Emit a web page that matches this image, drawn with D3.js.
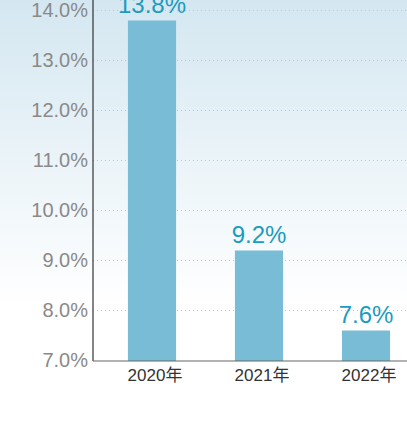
<!DOCTYPE html>
<html>
<head>
<meta charset="utf-8">
<script src="https://cdn.jsdelivr.net/npm/d3@7"></script>
<style>
  body { margin: 0; background: #fff; }
  svg { display: block; }
</style>
</head>
<body>
<div id="chart"></div>
<script>
const years = ["2020年", "2021年", "2022年"];
const rates = [13.8, 9.2, 7.6];
const yTicks = [7, 8, 9, 10, 11, 12, 13, 14];

const width = 407, height = 425;
const svg = d3.select("#chart").append("svg")
  .attr("width", width)
  .attr("height", height);

// background gradient, light blue fading to white
const grad = svg.append("defs").append("linearGradient")
  .attr("id", "bg")
  .attr("x1", 0).attr("y1", 0).attr("x2", 0).attr("y2", 1);
grad.append("stop").attr("offset", "0%").attr("stop-color", "#d4e7f1");
grad.append("stop").attr("offset", "72%").attr("stop-color", "#ffffff");
grad.append("stop").attr("offset", "100%").attr("stop-color", "#ffffff");

svg.append("rect")
  .attr("width", width)
  .attr("height", height)
  .attr("fill", "url(#bg)");

const axisX = 93, axisY = 361;

const y = d3.scaleLinear().domain([7, 14]).range([360.5, 10.5]);
const x = d3.scaleBand().domain(years)
  .range([98.5, 419.5])
  .paddingInner(0.55)
  .paddingOuter(0.275);

// dotted gridlines
svg.append("g")
  .selectAll("line")
  .data(yTicks.slice(1))
  .enter().append("line")
  .attr("x1", axisX)
  .attr("x2", width)
  .attr("y1", d => y(d))
  .attr("y2", d => y(d))
  .attr("stroke", "#c4c8cc")
  .attr("stroke-width", 1)
  .attr("stroke-dasharray", "1,3");

// bars
svg.append("g")
  .selectAll("rect")
  .data(rates)
  .enter().append("rect")
  .attr("x", (d, i) => x(years[i]))
  .attr("y", d => y(d))
  .attr("width", x.bandwidth())
  .attr("height", d => axisY - y(d))
  .attr("fill", "#79bcd6");

// value labels
svg.append("g")
  .selectAll("text")
  .data(rates)
  .enter().append("text")
  .attr("x", (d, i) => x(years[i]) + x.bandwidth() / 2)
  .attr("y", d => y(d) - 8)
  .attr("text-anchor", "middle")
  .style("font-family", "'Liberation Sans', Arial, sans-serif")
  .style("font-size", "24px")
  .attr("fill", "#1a9cc0")
  .text(d => d.toFixed(1) + "%");

// y axis
const yAxis = d3.axisLeft(y)
  .tickValues(yTicks)
  .tickSize(0)
  .tickPadding(5)
  .tickFormat(d => d.toFixed(1) + "%");

const gy = svg.append("g")
  .attr("transform", `translate(${axisX},0)`)
  .call(yAxis);
gy.select(".domain").remove();
gy.selectAll("text")
  .style("font-family", "'Liberation Sans', Arial, sans-serif")
  .style("font-size", "20px")
  .attr("fill", "#8a8a8a");

svg.append("line")
  .attr("x1", axisX).attr("x2", axisX)
  .attr("y1", 0).attr("y2", axisY)
  .attr("stroke", "#333")
  .attr("stroke-width", 1.2);

// x axis
const xAxis = d3.axisBottom(x).tickSize(0).tickPadding(8);
const gx = svg.append("g")
  .attr("transform", `translate(0,${axisY})`)
  .call(xAxis);
gx.select(".domain").remove();
gx.selectAll("text")
  .attr("dx", 3)
  .style("font-family", "'Liberation Sans', 'Noto Sans CJK SC', Arial, sans-serif")
  .style("font-size", "17px")
  .attr("fill", "#333");

svg.append("line")
  .attr("x1", axisX).attr("x2", width)
  .attr("y1", axisY).attr("y2", axisY)
  .attr("stroke", "#666")
  .attr("stroke-width", 1.2);
</script>
</body>
</html>
